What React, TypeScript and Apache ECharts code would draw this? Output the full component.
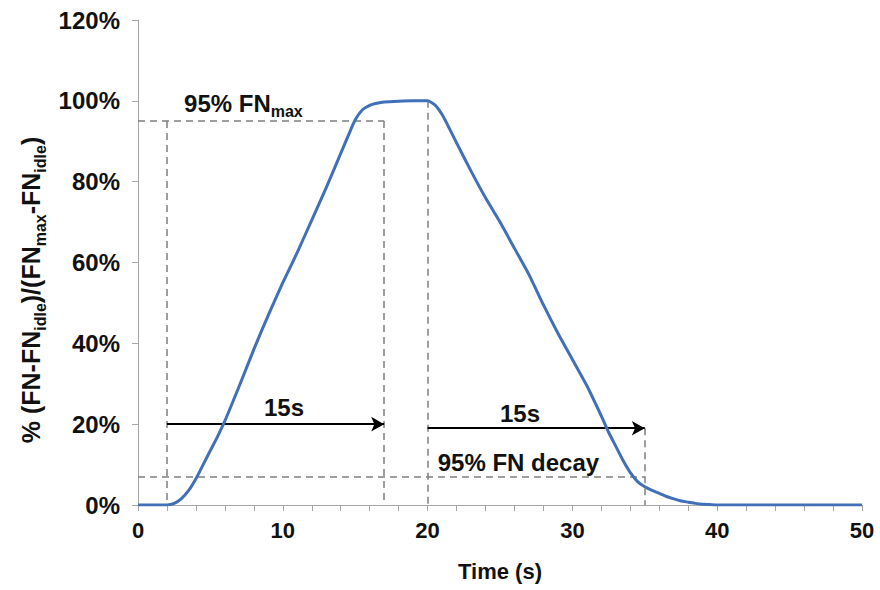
import React, { useEffect, useRef } from "react";
import * as echarts from "echarts";

// Normalised thrust response over time (s)
const timeS = [
  0, 1, 2, 2.5, 3, 3.5, 4, 4.5, 5, 5.5, 6, 7, 8, 9, 10, 11, 12, 13, 14, 14.5, 15,
  15.5, 16, 16.5, 17, 18, 19, 20, 20.5, 21, 21.5, 22, 23, 24, 25, 26, 27, 28, 29,
  30, 31, 32, 32.5, 33, 33.5, 34, 34.5, 35, 35.5, 36, 36.5, 37, 37.5, 38, 38.5, 39,
  39.5, 40, 45, 50,
];
const thrustPct = [
  0, 0, 0, 0.4, 1.6, 3.6, 6.5, 10, 13.5, 17, 20.8, 29.5, 38.5, 47, 55, 62.5, 70.5,
  78.5, 87, 91.2, 95.3, 97.8, 98.9, 99.4, 99.7, 99.9, 100, 100, 99, 96.6, 93.2,
  89.6, 82.6, 76, 70, 63.5, 57, 49.5, 42.5, 36, 29.5, 22, 18, 14.5, 11, 8, 5.8, 4.5,
  3.6, 2.9, 2.1, 1.5, 1.0, 0.7, 0.4, 0.2, 0.1, 0, 0, 0,
];

// Dashed reference lines (pairs of [time, %])
const guideLines: number[][][] = [
  [[0, 95], [17, 95]],
  [[2, 95], [2, 0]],
  [[17, 95], [17, 0]],
  [[20, 100], [20, 0]],
  [[0, 7], [35, 7]],
  [[35, 19], [35, 0]],
];

// Duration arrows
const arrows: number[][][] = [
  [[2, 20], [17, 20]],
  [[20, 19], [35, 19]],
];

// Annotation texts: [time, %, rich text]
const notes: [number, number, string][] = [
  [3.18, 99.3, "{m|95% FN}{s|max}"],
  [20.7, 10.5, "{m|95% FN decay}"],
  [8.7, 24.1, "{m|15s}"],
  [25.0, 22.6, "{m|15s}"],
];

const xTicks = { min: 0, max: 50, step: 2, labelEvery: 10 };
const yTicks = { min: 0, max: 120, step: 20 };

const FONT = "'Liberation Sans', Arial, sans-serif";
const INK = "#111111";

export default function App() {
  const ref = useRef<HTMLDivElement>(null);

  useEffect(() => {
    if (!ref.current) return;
    const chart = echarts.init(ref.current, undefined, { renderer: "svg" });

    const richMain = {
      m: { fontSize: 24, fontWeight: "bold", fontFamily: FONT, color: INK, lineHeight: 32 },
      s: {
        fontSize: 16,
        fontWeight: "bold",
        fontFamily: FONT,
        color: INK,
        lineHeight: 18,
        verticalAlign: "bottom",
      },
    };

    chart.setOption({
      animation: false,
      backgroundColor: "#ffffff",
      grid: { left: 138, right: 18, top: 20, bottom: 85, containLabel: false },
      xAxis: {
        type: "value",
        min: xTicks.min,
        max: xTicks.max,
        interval: xTicks.step,
        name: "Time (s)",
        nameLocation: "middle",
        nameGap: 55,
        nameTextStyle: { fontSize: 22, fontWeight: "bold", fontFamily: FONT, color: INK },
        axisLine: { show: true, lineStyle: { color: "#a6a6a6", width: 1 } },
        axisTick: { show: true, length: 6, lineStyle: { color: "#a6a6a6" } },
        axisLabel: {
          margin: 14,
          fontSize: 22,
          fontWeight: "bold",
          fontFamily: FONT,
          color: INK,
          formatter: (v: number) => (v % xTicks.labelEvery === 0 ? String(v) : ""),
        },
        splitLine: { show: false },
      },
      yAxis: {
        type: "value",
        min: yTicks.min,
        max: yTicks.max,
        interval: yTicks.step,
        axisLine: { show: true, lineStyle: { color: "#a6a6a6", width: 1 } },
        axisTick: { show: true, length: 6, lineStyle: { color: "#a6a6a6" } },
        axisLabel: {
          margin: 18,
          fontSize: 24,
          fontWeight: "bold",
          fontFamily: FONT,
          color: INK,
          formatter: "{value}%",
        },
        splitLine: { show: false },
      },
      graphic: [
        {
          type: "text",
          x: 31,
          y: 290,
          rotation: Math.PI / 2,
          style: {
            text: "{m|% (FN-FN}{s|idle}{m|)/(FN}{s|max}{m|-FN}{s|idle}{m|)}",
            align: "center",
            verticalAlign: "middle",
            rich: {
              m: { fontSize: 25, fontWeight: "bold", fontFamily: FONT, fill: INK, lineHeight: 34 },
              s: {
                fontSize: 16,
                fontWeight: "bold",
                fontFamily: FONT,
                fill: INK,
                lineHeight: 18,
                verticalAlign: "bottom",
              },
            },
          },
        },
      ],
      series: [
        {
          type: "line",
          data: timeS.map((t, i) => [t, thrustPct[i]]),
          showSymbol: false,
          smooth: 0.2,
          lineStyle: { color: "#4170b8", width: 3, join: "round" },
          z: 5,
          markLine: {
            silent: true,
            symbol: ["none", "none"],
            label: { show: false },
            lineStyle: { color: "#7f7f7f", width: 1.5, type: [7, 5] },
            data: guideLines.map(([a, b]) => [{ coord: a }, { coord: b }]),
          },
        },
        {
          type: "line",
          data: [],
          markLine: {
            silent: true,
            symbol: ["none", "arrow"],
            symbolSize: [11, 13],
            label: { show: false },
            lineStyle: { color: "#000000", width: 2, type: "solid" },
            data: arrows.map(([a, b]) => [{ coord: a }, { coord: b }]),
          },
          z: 6,
        },
        {
          type: "scatter",
          symbolSize: 0,
          silent: true,
          itemStyle: { opacity: 1 },
          data: notes.map(([x, y]) => [x, y]),
          label: {
            show: true,
            position: "right",
            distance: 0,
            color: INK,
            opacity: 1,
            formatter: (p: any) => notes[p.dataIndex][2],
            rich: richMain,
          },
          z: 7,
        },
      ],
    });

    return () => chart.dispose();
  }, []);

  return (
    <div
      ref={ref}
      style={{ position: "fixed", left: 0, top: 0, width: 880, height: 590 }}
    />
  );
}
